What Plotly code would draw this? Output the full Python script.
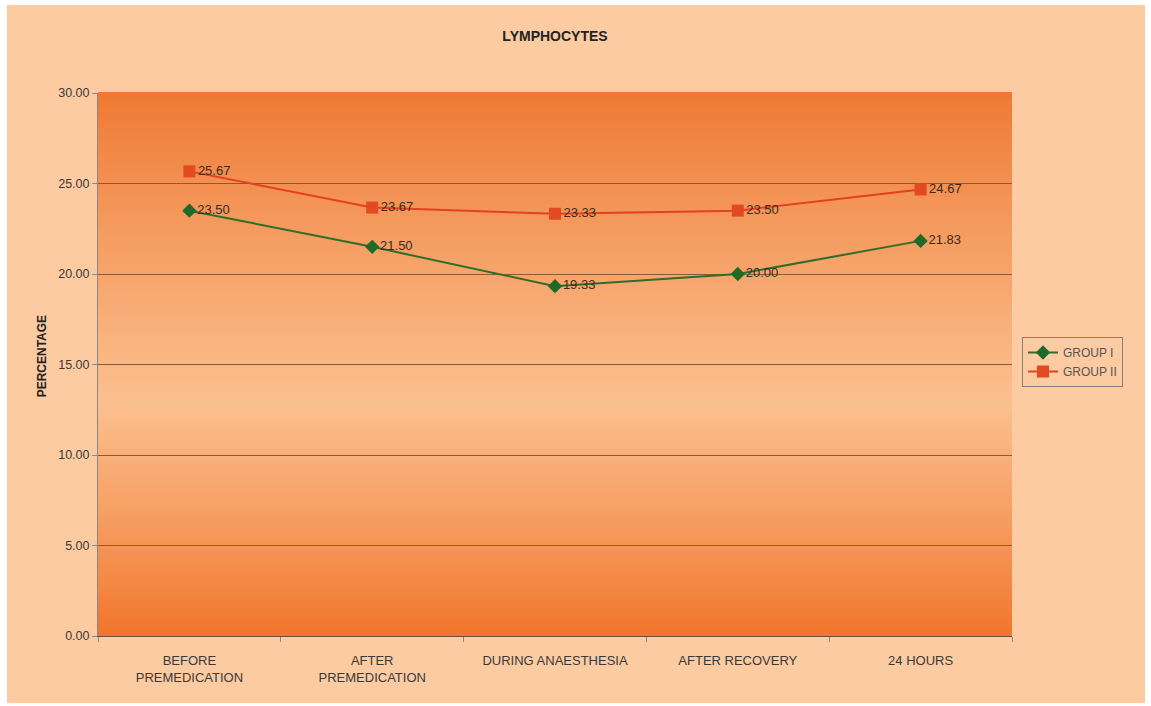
import plotly.graph_objects as go

categories = ["BEFORE<br>PREMEDICATION", "AFTER<br>PREMEDICATION", "DURING ANAESTHESIA",
              "AFTER RECOVERY", "24 HOURS"]
group1 = [23.50, 21.50, 19.33, 20.00, 21.83]
group2 = [25.67, 23.67, 23.33, 23.50, 24.67]
y_ticks = [0, 5, 10, 15, 20, 25, 30]

W, H = 1151, 706
ML, MR, MT, MB = 98, 139, 93, 70
PW, PH = W - ML - MR, H - MT - MB

PEACH = "#FCCBA1"

fig = go.Figure()

fig.add_trace(go.Scatter(
    x=categories, y=group1, name="GROUP I", mode="lines+markers+text",
    line=dict(color="#2F6E2A", width=2),
    marker=dict(symbol="diamond", size=11, color="#1F6A2A"),
    text=[f"{v:.2f}" for v in group1], textposition="middle right",
    textfont=dict(family="Arial", size=13, color="#3a2a20"),
))
fig.add_trace(go.Scatter(
    x=categories, y=group2, name="GROUP II", mode="lines+markers+text",
    line=dict(color="#E4411E", width=2),
    marker=dict(symbol="square", size=12, color="#E24A22"),
    text=[f"{v:.2f}" for v in group2], textposition="middle right",
    textfont=dict(family="Arial", size=13, color="#3a2a20"),
))

shapes = []


def px_to_paper_x(px):
    return (px - ML) / PW


def px_to_paper_y(py):
    return (H - MB - py) / PH


# outer peach chart area (white margin around it)
shapes.append(dict(type="rect", xref="paper", yref="paper", layer="below",
                   x0=px_to_paper_x(7), x1=px_to_paper_x(1145),
                   y0=px_to_paper_y(703), y1=px_to_paper_y(5),
                   fillcolor=PEACH, line=dict(width=0)))

# plot-area vertical gradient: dark orange at edges, light in the middle
dark_top = (239, 120, 50)
dark_bot = (241, 116, 42)
light = (251, 192, 143)
center = 0.57
N = 120
for i in range(N):
    t0 = i / N
    t1 = (i + 1) / N
    tm = (t0 + t1) / 2  # 0 = bottom, 1 = top
    s = 1 - tm  # 0 = top, 1 = bottom
    if s < center:
        f = s / center
        c0 = dark_top
    else:
        f = (1 - s) / (1 - center)
        c0 = dark_bot
    f = f ** 0.9
    col = tuple(int(round(c0[k] + (light[k] - c0[k]) * f)) for k in range(3))
    shapes.append(dict(type="rect", xref="x domain", yref="y domain", layer="below",
                       x0=0, x1=1, y0=t0, y1=t1 + 0.002,
                       fillcolor="rgb(%d,%d,%d)" % col, line=dict(width=0)))

fig.update_layout(
    width=W, height=H,
    margin=dict(l=ML, r=MR, t=MT, b=MB),
    paper_bgcolor="white",
    plot_bgcolor=PEACH,
    shapes=shapes,
    title=dict(text="<b>LYMPHOCYTES</b>", x=0.5, xref="paper",
               y=1 - 36 / H, yref="container", xanchor="center", yanchor="middle",
               font=dict(family="Arial", size=14, color="#222")),
    font=dict(family="Arial", size=12, color="#333"),
    legend=dict(x=px_to_paper_x(1022), y=px_to_paper_y(337), xanchor="left", yanchor="top",
                bgcolor=PEACH, bordercolor="#8a8078", borderwidth=1,
                font=dict(family="Arial", size=12, color="#555"),
                itemwidth=30, tracegroupgap=2),
    showlegend=True,
    annotations=[dict(text="<b>PERCENTAGE</b>", textangle=-90, xref="paper", yref="paper",
                      x=px_to_paper_x(33), y=0.515, showarrow=False,
                      font=dict(family="Arial", size=12, color="#222"))],
)

fig.update_xaxes(
    type="category", range=[-0.5, 4.5], showgrid=False,
    showline=True, linecolor="#6b5040", linewidth=1,
    ticks="outside", tickson="boundaries", ticklen=5, tickcolor="#888",
    ticklabelstandoff=12,
    tickfont=dict(family="Arial", size=13, color="#3a3a3a"),
)
fig.update_yaxes(
    range=[0, 30], tickvals=y_ticks, tickformat=".2f",
    showgrid=True, gridcolor="#8c5a3a", gridwidth=1,
    showline=True, linecolor="#888", linewidth=1,
    ticks="outside", ticklen=5, tickcolor="#888",
    tickfont=dict(family="Arial", size=12.5, color="#3a3a3a"),
    zeroline=False,
)

fig.write_html("out.html")
